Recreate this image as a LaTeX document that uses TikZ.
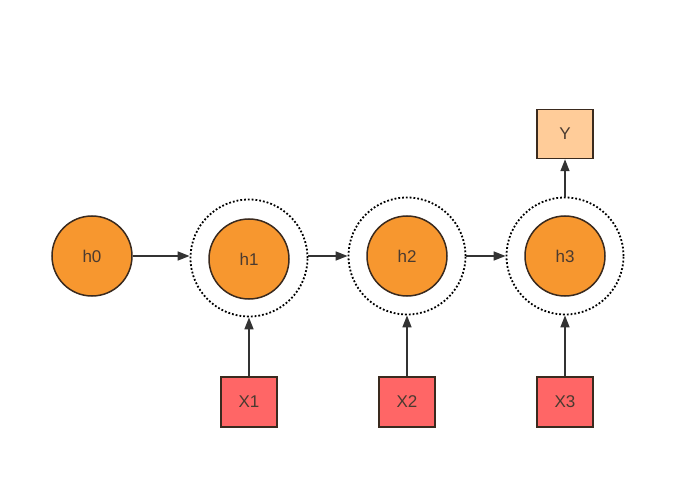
\documentclass[tikz,border=0pt]{standalone}
\usepackage{fontspec}
\setmainfont{Liberation Sans}
\usetikzlibrary{arrows.meta}

\definecolor{hfill}{HTML}{F7972F}
\definecolor{xfill}{HTML}{FF6666}
\definecolor{yfill}{HTML}{FFCC99}
\definecolor{edge}{HTML}{3A2A1E}
\definecolor{txt}{HTML}{4A3A30}

\tikzset{
  hstate/.style = {circle, draw=edge, fill=hfill, line width=1.5pt, minimum size=80pt, inner sep=0pt, text=txt},
  ring/.style = {circle, draw=black, dotted, line width=1.8pt, minimum size=117pt, inner sep=0pt},
  xinput/.style = {rectangle, draw=edge, fill=xfill, line width=1.5pt, minimum width=56pt, minimum height=50pt, text=txt},
  youtput/.style = {rectangle, draw=edge, fill=yfill, line width=1.5pt, minimum width=56pt, minimum height=49pt, text=txt},
  link/.style = {draw=black!80, line width=1.6pt, -{Triangle[length=12pt,width=9pt]}}
}

\begin{document}
\begin{tikzpicture}[x=1pt, y=-1pt, font=\fontsize{17}{20}\selectfont]

  % Fix the page size
  \useasboundingbox (0,0) rectangle (685,489);

  % Hidden states
  \node[hstate] (h0) at (92,256) {h0};
  \node[ring] (r1) at (249,258) {};
  \node[ring] (r2) at (407,256) {};
  \node[ring] (r3) at (565,256) {};
  \node[hstate] (h1) at (249,259) {h1};
  \node[hstate] (h2) at (407,256) {h2};
  \node[hstate] (h3) at (565,256) {h3};

  % Inputs and output
  \node[xinput] (x1) at (249,402) {X1};
  \node[xinput] (x2) at (407,402) {X2};
  \node[xinput] (x3) at (565,402) {X3};
  \node[youtput] (y) at (565,134) {Y};

  % Arrows
  \draw[link] (h0.east) -- (h0.east -| r1.west);
  \draw[link] (r2.west -| r1.east) -- (r2.west);
  \draw[link] (r2.east) -- (r3.west);
  \draw[link] (x1) -- (r1);
  \draw[link] (x2) -- (r2);
  \draw[link] (x3) -- (r3);
  \draw[link] (r3) -- (y);

\end{tikzpicture}
\end{document}
